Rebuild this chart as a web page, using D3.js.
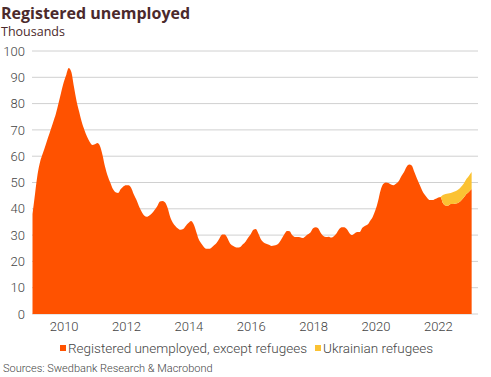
<!DOCTYPE html>
<html lang="en">
<head>
    <meta charset="UTF-8">
    <title>Registered unemployed</title>
    <script src="https://cdn.jsdelivr.net/npm/d3@7"></script>
    <style>
        body { margin: 0; background: #fff; }
        svg text { font-family: Roboto, "Noto Sans", sans-serif; font-weight: 300; }
    </style>
</head>
<body>
    <script>
        // monthly data, Jan 2009 .. Feb 2023, thousands
        var startYear = 2009;
        var exceptRefugees = [
            38, 46, 53, 58, 61, 64, 67, 70, 73, 76, 80, 84,          // 2009
            88, 91, 93.5, 92, 86.5, 81, 77, 73, 70, 67.5, 65.5, 64.3, // 2010
            64.5, 65, 64, 60.5, 56, 52.5, 50, 47.5, 46.3, 46, 47.5, 48.5, // 2011
            49, 49, 48, 45.5, 43.5, 41, 39, 37.5, 37, 37.5, 38.3, 39.5,   // 2012
            41, 42.8, 43, 42.5, 40.5, 37, 34.8, 33.5, 32.5, 32, 32.3, 33.5, // 2013
            34.6, 35.4, 34.3, 31.5, 28.5, 26.8, 25.5, 24.8, 24.8, 25.3, 26.2, 27.2, // 2014
            28.8, 30.2, 30.2, 29, 27, 26, 25.5, 25.3, 25.5, 26.5, 27.5, 29, // 2015
            30.3, 32, 32.3, 30.5, 28.3, 27.2, 26.7, 26.3, 25.9, 26, 26.3, 27.2, // 2016
            28.8, 30.5, 31.6, 31.5, 30, 29.3, 29.3, 29.2, 28.9, 29.5, 30.3, 31, // 2017
            32.6, 33, 32.6, 30.8, 29.7, 29.3, 29.4, 29.1, 29.6, 30.6, 32.2, 33, // 2018
            33, 32.2, 30.8, 30, 30.6, 31.2, 31.2, 32.8, 33.5, 34, 35.5, 37, // 2019
            39.5, 43, 47, 49.4, 50, 49.8, 49.2, 49, 49.6, 50.6, 52.5, 54, // 2020
            56, 56.8, 56.5, 54, 51.5, 49.2, 47, 45.3, 44, 43.3, 43.3, 43.7, // 2021
            44.2, 44.5, 42.2, 41.3, 41.2, 41.8, 41.8, 42, 42.4, 43.2, 44.3, 45.6, // 2022
            46.5, 47.5                                                // 2023
        ];
        var ukrainianRefugees = [
            0, 0, 0, 0, 0, 0, 0, 0, 0, 0, 0, 0,
            0, 0, 0, 0, 0, 0, 0, 0, 0, 0, 0, 0,
            0, 0, 0, 0, 0, 0, 0, 0, 0, 0, 0, 0,
            0, 0, 0, 0, 0, 0, 0, 0, 0, 0, 0, 0,
            0, 0, 0, 0, 0, 0, 0, 0, 0, 0, 0, 0,
            0, 0, 0, 0, 0, 0, 0, 0, 0, 0, 0, 0,
            0, 0, 0, 0, 0, 0, 0, 0, 0, 0, 0, 0,
            0, 0, 0, 0, 0, 0, 0, 0, 0, 0, 0, 0,
            0, 0, 0, 0, 0, 0, 0, 0, 0, 0, 0, 0,
            0, 0, 0, 0, 0, 0, 0, 0, 0, 0, 0, 0,
            0, 0, 0, 0, 0, 0, 0, 0, 0, 0, 0, 0,
            0, 0, 0, 0, 0, 0, 0, 0, 0, 0, 0, 0,
            0, 0, 0, 0, 0, 0, 0, 0, 0, 0, 0, 0,
            0, 0, 3, 4.3, 4.6, 4.2, 4.6, 4.8, 5, 5.2, 5.3, 5.7,
            6.1, 6.5
        ];
        var yTicks = [0, 10, 20, 30, 40, 50, 60, 70, 80, 90, 100];
        var xTickYears = [2010, 2012, 2014, 2016, 2018, 2020, 2022];
        var seriesNames = ['Registered unemployed, except refugees', 'Ukrainian refugees'];
        var colors = ['#ff5200', '#fbc233'];

        var w = 491;
        var h = 377;

        var data = exceptRefugees.map(function(v, i) {
            return {
                date: new Date(startYear, i, 1),
                except: v,
                refugees: ukrainianRefugees[i]
            };
        });

        var xScale = d3.scaleTime()
                        .domain([new Date(2009, 0, 1), new Date(2023, 0, 1)])
                        .range([32.5, 469]);

        var yScale = d3.scaleLinear()
                        .domain([0, 100])
                        .range([314, 51]);

        var svg = d3.select('body')
                    .append('svg')
                    .attr('width', w)
                    .attr('height', h);

        // title
        svg.append('text')
            .attr('x', 1)
            .attr('y', 19)
            .attr('fill', '#4b2a2c')
            .style('font-family', '"Open Sans", sans-serif')
            .style('font-weight', 'bold')
            .style('font-size', '16px')
            .text('Registered unemployed');

        svg.append('text')
            .attr('x', 1)
            .attr('y', 36)
            .attr('fill', '#4b2a2c')
            .style('font-family', '"Open Sans", sans-serif')
            .style('font-weight', 'normal')
            .style('font-size', '12.5px')
            .text('Thousands');

        // gridlines
        svg.append('g')
            .selectAll('line')
            .data(yTicks)
            .enter()
            .append('line')
            .attr('x1', 32)
            .attr('x2', 478)
            .attr('y1', function(d) { return yScale(d); })
            .attr('y2', function(d) { return yScale(d); })
            .attr('stroke', '#d0d0d0')
            .attr('stroke-width', 1);

        // stacked areas
        var stack = d3.stack().keys(['except', 'refugees']);
        var layers = stack(data);

        var area = d3.area()
                    .curve(d3.curveMonotoneX)
                    .x(function(d) { return xScale(d.data.date); })
                    .y0(function(d) { return yScale(d[0]); })
                    .y1(function(d) { return yScale(d[1]); });

        svg.append('g')
            .selectAll('path')
            .data(layers)
            .enter()
            .append('path')
            .attr('d', area)
            .attr('fill', function(d, i) { return colors[i]; });

        // y axis labels
        var yAxis = d3.axisLeft(yScale)
                        .tickValues(yTicks)
                        .tickSize(0)
                        .tickPadding(0);

        var gy = svg.append('g')
            .attr('transform', 'translate(25,0)')
            .call(yAxis);
        gy.select('.domain').remove();
        gy.selectAll('text')
            .attr('fill', '#444')
            .style('font-size', '13px');

        // x axis labels
        var xAxis = d3.axisBottom(xScale)
                        .tickValues(xTickYears.map(function(y) { return new Date(y, 0, 1); }))
                        .tickFormat(d3.timeFormat('%Y'))
                        .tickSize(0)
                        .tickPadding(8);

        var gx = svg.append('g')
            .attr('transform', 'translate(0,314)')
            .call(xAxis);
        gx.select('.domain').remove();
        gx.selectAll('text')
            .attr('fill', '#444')
            .style('font-size', '13px');

        // legend
        var legend = svg.append('g')
            .attr('transform', 'translate(60,348)');
        var lx = 0;
        seriesNames.forEach(function(name, i) {
            var g = legend.append('g')
                .attr('transform', 'translate(' + lx + ',0)');
            g.append('rect')
                .attr('x', 0)
                .attr('y', -3)
                .attr('width', 6)
                .attr('height', 6)
                .attr('fill', colors[i]);
            var t = g.append('text')
                .attr('x', 8)
                .attr('y', 5)
                .attr('fill', '#444')
                .style('font-size', '13.5px')
                .text(name);
            lx += 8 + t.node().getComputedTextLength() + 8;
        });

        // source
        svg.append('text')
            .attr('x', 3)
            .attr('y', 372)
            .attr('fill', '#444')
            .style('font-size', '11px')
            .text('Sources: Swedbank Research & Macrobond');
    </script>
</body>
</html>
